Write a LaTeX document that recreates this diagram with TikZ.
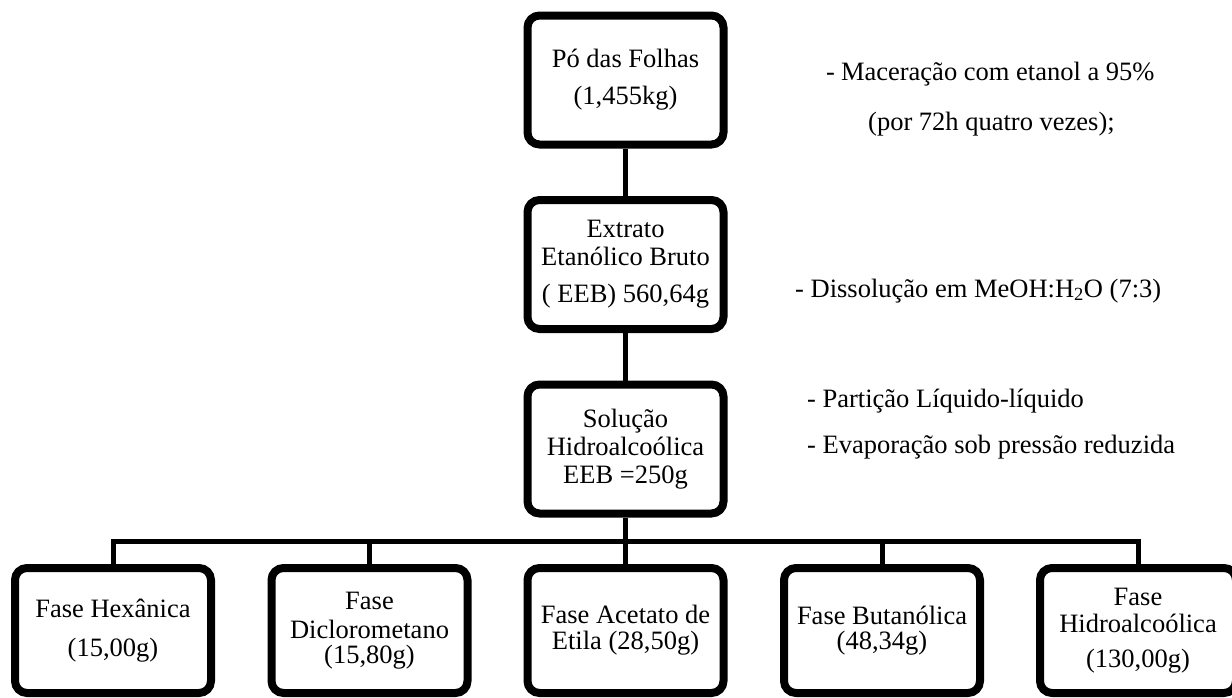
\documentclass[tikz,border=0pt]{standalone}
\usepackage{fontspec}
\setmainfont{Liberation Serif}
\usetikzlibrary{shadows}
\begin{document}
\begin{tikzpicture}[x=1pt,y=-1pt,
  every node/.style={font=\fontsize{26.5}{28}\selectfont},
  box/.style={draw=black, fill=white, line width=8pt, rounded corners=12pt,
    inner sep=0pt, align=center, minimum width=196pt,
    drop shadow={opacity=0.25, shadow xshift=2pt, shadow yshift=-3pt}},
  mainbox/.style={box, minimum height=129pt},
  phasebox/.style={box, minimum height=125pt},
  link/.style={line width=5pt, draw=black},
  note/.style={anchor=base west, inner sep=0pt}]
\useasboundingbox (0,0) rectangle (1232,697);
\clip (0,0) rectangle (1232,697);

% main sequence
\node[mainbox] (po)  at (625.5,80)  {Pó das Folhas\\[9pt](1,455kg)};
\node[mainbox] (eeb) at (625.5,264.5) {Extrato\\Etanólico Bruto\\[9pt]( EEB) 560,64g};
\node[mainbox] (sol) at (625.5,449) {Solução\\Hidroalcoólica\\EEB =250g};

% phases
\node[phasebox] (hex) at (113,630.5)  {Fase Hexânica\\[11pt](15,00g)};
\node[phasebox] (dcm) at (369.5,630.5) {Fase\\[1pt]Diclorometano\\[-3pt](15,80g)};
\node[phasebox] (ace) at (625.5,630.5) {Fase Acetato de\\[-2pt]Etila (28,50g)};
\node[phasebox] (but) at (882,630.5)  {Fase Butanólica\\[-3pt](48,34g)};
\node[phasebox] (hid) at (1138,630.5) {Fase\\[-1pt]Hidroalcoólica\\[7pt](130,00g)};

% connectors
\coordinate (bus) at (625.5,541);
\draw[link] (po.south) -- (eeb.north);
\draw[link] (eeb.south) -- (sol.north);
\draw[link] (sol.south) -- (sol.south |- bus);
\draw[link] (hex.north) -- (hex.north |- bus) -- (hid.north |- bus) -- (hid.north);
\draw[link] (dcm.north) -- (dcm.north |- bus);
\draw[link] (ace.north) -- (ace.north |- bus);
\draw[link] (but.north) -- (but.north |- bus);

% process steps
\node[note] (n1) at (826,80)  {-\hspace{6pt}Maceração com etanol a 95\%};
\node[note] (n2) at (868,130) {(por 72h quatro vezes);};
\node[note] (n3) at (795,297) {- Dissolução em MeOH:H\textsubscript{2}O (7:3)};
\node[note] (n4) at (807,407) {- Partição Líquido-líquido};
\node[note] (n5) at (807,453) {- Evaporação sob pressão reduzida};
\end{tikzpicture}
\end{document}
